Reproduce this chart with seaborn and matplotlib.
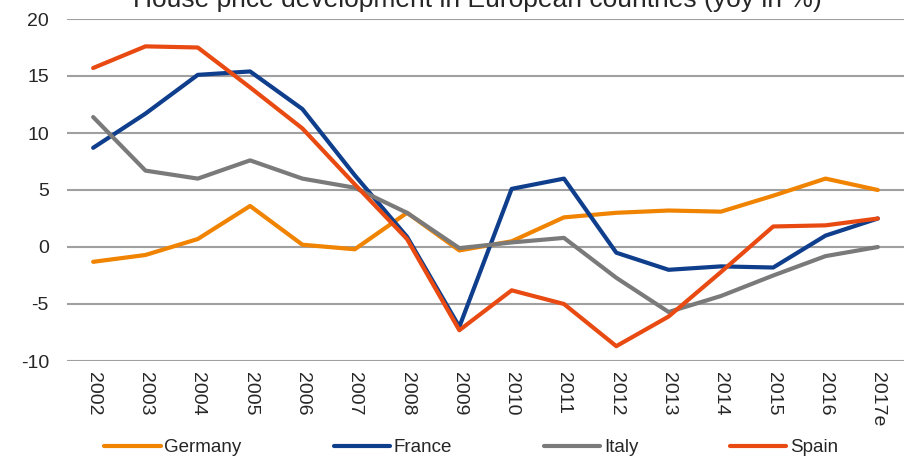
import matplotlib
matplotlib.use("Agg")
import matplotlib.pyplot as plt
import seaborn as sns
import pandas as pd

years = ["2002", "2003", "2004", "2005", "2006", "2007", "2008", "2009",
         "2010", "2011", "2012", "2013", "2014", "2015", "2016", "2017e"]
germany = [-1.3, -0.7, 0.7, 3.6, 0.2, -0.2, 3.0, -0.3, 0.5, 2.6, 3.0, 3.2, 3.1, 4.5, 6.0, 5.0]
france = [8.7, 11.7, 15.1, 15.4, 12.1, 6.3, 0.9, -7.0, 5.1, 6.0, -0.5, -2.0, -1.7, -1.8, 1.0, 2.5]
italy = [11.4, 6.7, 6.0, 7.6, 6.0, 5.2, 3.0, -0.1, 0.4, 0.8, -2.7, -5.7, -4.3, -2.5, -0.8, 0.0]
spain = [15.7, 17.6, 17.5, 14.0, 10.4, 5.5, 0.7, -7.3, -3.8, -5.0, -8.7, -6.1, -2.2, 1.8, 1.9, 2.5]

countries = ["Germany", "France", "Italy", "Spain"]
colors = ["#F08300", "#0F3E8C", "#7A7A7A", "#E84A12"]

df = pd.concat([
    pd.DataFrame({"year": years, "value": vals, "country": name})
    for name, vals in zip(countries, [germany, france, italy, spain])
])

sns.set_style("white")
plt.rcParams["font.family"] = ["Liberation Sans", "DejaVu Sans"]
plt.rcParams["axes.unicode_minus"] = False

fig = plt.figure(figsize=(9.18, 4.57), dpi=100)
ax = fig.add_axes([67 / 918, 1 - 361 / 457, (904 - 67) / 918, (361 - 19) / 457])

sns.lineplot(data=df, x="year", y="value", hue="country", palette=colors,
             sort=False, linewidth=3, ax=ax, legend=True)

ax.set_xlim(-0.5, 15.5)
ax.set_ylim(-10, 20)
ax.set_yticks(range(-10, 21, 5))
ax.yaxis.grid(True, color="#A0A0A0", linewidth=1.5)
ax.xaxis.grid(False)
for s in ax.spines.values():
    s.set_visible(False)
ax.set_xlabel("")
ax.set_ylabel("")
ax.tick_params(axis="y", labelsize=14, length=0, pad=13)
ax.tick_params(axis="x", labelsize=14, length=0, pad=8, labelrotation=-90)

# legend sits under the rotated year labels
ax.legend(loc="upper center", bbox_to_anchor=(0.483, -0.207), ncol=4, frameon=False,
          fontsize=13.5, handlelength=3.0, handletextpad=0.2, columnspacing=4.9,
          borderaxespad=0)

# title is partly cut off at the top edge, as in the source image
fig.text(0.52, 1 - 7 / 457, "House price development in European countries (yoy in %)",
         ha="center", va="baseline", fontsize=19)

fig.savefig("out.png", dpi=100)
